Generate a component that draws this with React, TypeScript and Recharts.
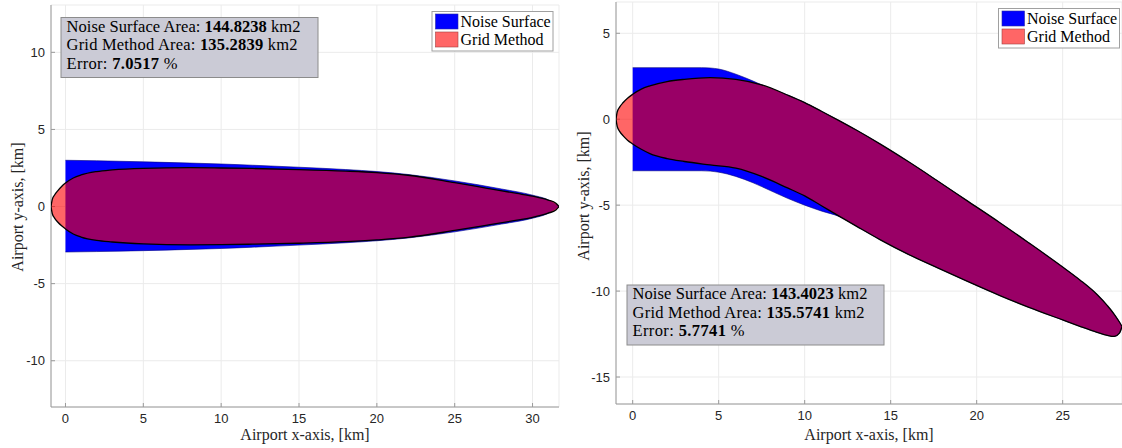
import React from 'react';
import { ComposedChart, Area, XAxis, YAxis, CartesianGrid } from 'recharts';

// ---------- Left panel (straight departure) ----------
const leftXTicks = [0, 5, 10, 15, 20, 25, 30];
const leftYTicks = [-10, -5, 0, 5, 10];
const leftNoiseX = [0, 2, 5, 8, 10, 12, 15, 18, 20, 22, 25, 28, 30, 31, 31.7];
const leftNoiseTop = [3.0, 2.97, 2.9, 2.82, 2.76, 2.68, 2.55, 2.4, 2.27, 2.08, 1.66, 1.14, 0.74, 0.44, 0.02];
const leftNoiseBottom = [-2.95, -2.92, -2.86, -2.78, -2.72, -2.64, -2.5, -2.35, -2.22, -2.04, -1.64, -1.14, -0.76, -0.45, -0.02];
const leftGridX = [-0.93, -0.85, -0.7, -0.5, -0.25, 0, 0.5, 1, 2, 3, 5, 8, 10, 12, 15, 18, 20, 22, 25, 27, 29, 30, 31, 31.5, 31.7];
const leftGridTop = [0, 0.45, 0.75, 1.02, 1.3, 1.52, 1.85, 2.05, 2.27, 2.38, 2.48, 2.52, 2.5, 2.47, 2.4, 2.3, 2.2, 2.03, 1.55, 1.2, 0.85, 0.67, 0.42, 0.22, 0];
const leftGridBottom = [0, -0.45, -0.75, -1.0, -1.25, -1.45, -1.78, -1.98, -2.2, -2.3, -2.42, -2.48, -2.47, -2.44, -2.38, -2.28, -2.16, -2.0, -1.55, -1.22, -0.88, -0.7, -0.43, -0.23, 0];

// ---------- Right panel (turning departure) ----------
const rightXTicks = [0, 5, 10, 15, 20, 25];
const rightYTicks = [-15, -10, -5, 0, 5];
const rightNoiseX = [0, 2, 4, 4.5, 5, 6, 7, 7.5, 9, 10, 11, 12, 13, 14.4, 16, 17.67, 19.5, 21.35, 23, 25, 26, 27, 27.6, 28, 28.3, 28.45];
const rightNoiseTop = [3, 3, 3, 2.98, 2.92, 2.62, 2.22, 2.0, 1.41, 0.97, 0.45, -0.08, -0.63, -1.45, -2.45, -3.55, -4.78, -6.02, -7.17, -8.6, -9.35, -10.2, -10.85, -11.35, -11.8, -12.06];
const rightNoiseBottom = [-3, -3, -3, -3.02, -3.08, -3.33, -3.7, -3.92, -4.6, -5.0, -5.35, -5.66, -6.22, -7.02, -7.85, -8.62, -9.45, -10.26, -10.93, -11.68, -12.05, -12.4, -12.58, -12.64, -12.45, -12.06];
const rightGridX = [-0.97, -0.9, -0.75, -0.55, -0.3, 0, 0.5, 1, 2, 3, 4.5, 6, 7.5, 9, 10, 11, 12, 13, 14.4, 16, 17.67, 19.5, 21.35, 23, 25, 26, 27, 27.6, 28, 28.3, 28.45];
const rightGridTop = [0, 0.42, 0.72, 0.97, 1.22, 1.45, 1.75, 1.94, 2.19, 2.32, 2.42, 2.32, 2.0, 1.41, 0.97, 0.45, -0.08, -0.63, -1.45, -2.45, -3.55, -4.78, -6.02, -7.17, -8.6, -9.35, -10.2, -10.85, -11.35, -11.8, -12.06];
const rightGridBottom = [0, -0.42, -0.72, -0.97, -1.22, -1.44, -1.75, -2.0, -2.29, -2.46, -2.66, -2.85, -3.33, -4.0, -4.46, -5.05, -5.64, -6.22, -7.02, -7.85, -8.62, -9.45, -10.26, -10.93, -11.68, -12.05, -12.4, -12.58, -12.64, -12.45, -12.06];

// ---------- Text ----------
const legendLabels = ['Noise Surface', 'Grid Method'];
const leftStats = ['144.8238', '135.2839', '7.0517'];
const rightStats = ['143.4023', '135.5741', '5.7741'];
const xTitle = 'Airport x-axis, [km]';
const yTitle = 'Airport y-axis, [km]';

const build = (xs: number[], top: number[], bot: number[]) =>
  xs.map((x, i) => ({ x, r: [bot[i], top[i]] as [number, number] }));

const tickStyle = { fill: '#262626', fontSize: 13, fontFamily: 'Liberation Sans, Arial, sans-serif' };
const AXIS = '#9a9a9a';

type PanelProps = {
  left: number;
  width: number;
  margin: { top: number; right: number; bottom: number; left: number };
  yw: number;
  xh: number;
  xDomain: [number, number];
  yDomain: [number, number];
  xTicks: number[];
  yTicks: number[];
  noise: { x: number; r: [number, number] }[];
  grid: { x: number; r: [number, number] }[];
};

function Panel(p: PanelProps) {
  const common = { position: 'absolute' as const, left: p.left, top: 0 };
  return (
    <>
      <div style={common}>
        <ComposedChart width={p.width} height={448} data={p.noise} margin={p.margin}>
          <CartesianGrid stroke="#ebebeb" strokeWidth={1} />
          <XAxis
            type="number"
            dataKey="x"
            domain={p.xDomain}
            ticks={p.xTicks}
            allowDataOverflow
            interval={0}
            height={p.xh}
            tickSize={-4}
            tickMargin={11}
            stroke={AXIS}
            tick={tickStyle}
          />
          <YAxis
            type="number"
            domain={p.yDomain}
            ticks={p.yTicks}
            allowDataOverflow
            interval={0}
            width={p.yw}
            tickSize={-4}
            tickMargin={10}
            stroke={AXIS}
            tick={tickStyle}
          />
          <Area
            dataKey="r"
            type="monotone"
            fill="#0000ff"
            fillOpacity={1}
            stroke="#00007a"
            strokeWidth={0.6}
            dot={false}
            activeDot={false}
            isAnimationActive={false}
          />
        </ComposedChart>
      </div>
      <div style={common}>
        <ComposedChart width={p.width} height={448} data={p.grid} margin={p.margin}>
          <XAxis
            type="number"
            dataKey="x"
            domain={p.xDomain}
            ticks={p.xTicks}
            allowDataOverflow
            height={p.xh}
            tick={false}
            tickLine={false}
            axisLine={false}
          />
          <YAxis
            type="number"
            domain={p.yDomain}
            ticks={p.yTicks}
            allowDataOverflow
            width={p.yw}
            tick={false}
            tickLine={false}
            axisLine={false}
          />
          <Area
            dataKey="r"
            type="monotone"
            fill="#ff0000"
            fillOpacity={0.6}
            stroke="#000000"
            strokeWidth={1.3}
            dot={false}
            activeDot={false}
            isAnimationActive={false}
          />
        </ComposedChart>
      </div>
    </>
  );
}

const SERIF = 'Liberation Serif, Times New Roman, serif';

function StatsBox({ x, y, stats, widths }: { x: number; y: number; stats: string[]; widths: number[] }) {
  return (
    <g fontFamily={SERIF} fontSize={16.5} fill="#000">
      <rect x={x} y={y} width={257} height={60} fill="#cbcbd6" stroke="#8c8c8c" strokeWidth={1} />
      <text x={x + 5.5} y={y + 14} textLength={widths[0]} lengthAdjust="spacing">
        Noise Surface Area: <tspan fontWeight="bold">{stats[0]}</tspan> km2
      </text>
      <text x={x + 5.5} y={y + 32.5} textLength={widths[1]} lengthAdjust="spacing">
        Grid Method Area: <tspan fontWeight="bold">{stats[1]}</tspan> km2
      </text>
      <text x={x + 5.5} y={y + 51} textLength={widths[2]} lengthAdjust="spacing">
        Error: <tspan fontWeight="bold">{stats[2]}</tspan> %
      </text>
    </g>
  );
}

function LegendBox({ x, y }: { x: number; y: number }) {
  return (
    <g fontFamily={SERIF} fontSize={16} fill="#000">
      <rect x={x} y={y} width={121} height={39.5} fill="#fff" stroke="#a0a0a0" strokeWidth={1} />
      <rect x={x + 3.5} y={y + 2.5} width={22.5} height={15} fill="#0000ff" stroke="#2a2aa0" strokeWidth={0.6} />
      <rect x={x + 3.5} y={y + 20.5} width={22.5} height={15} fill="#ff6666" stroke="#a04040" strokeWidth={0.6} />
      <text x={x + 28.5} y={y + 15}>{legendLabels[0]}</text>
      <text x={x + 28.5} y={y + 33}>{legendLabels[1]}</text>
    </g>
  );
}

export default function App() {
  const leftNoise = build(leftNoiseX, leftNoiseTop, leftNoiseBottom);
  const leftGrid = build(leftGridX, leftGridTop, leftGridBottom);
  const rightNoise = build(rightNoiseX, rightNoiseTop, rightNoiseBottom);
  const rightGrid = build(rightGridX, rightGridTop, rightGridBottom);
  return (
    <div
      style={{
        position: 'absolute',
        left: 0,
        top: 0,
        width: 1122,
        height: 448,
        background: '#fff',
        overflow: 'hidden',
      }}
    >
      <Panel
        left={0}
        width={580}
        margin={{ top: 5, right: 21, bottom: 0, left: 0 }}
        yw={51}
        xh={41}
        xDomain={[-0.93, 31.7]}
        yDomain={[-13, 13.07]}
        xTicks={leftXTicks}
        yTicks={leftYTicks}
        noise={leftNoise}
        grid={leftGrid}
      />
      <Panel
        left={560}
        width={562}
        margin={{ top: 2, right: 0, bottom: 0, left: 0 }}
        yw={56}
        xh={44}
        xDomain={[-0.97, 28.45]}
        yDomain={[-16.57, 6.82]}
        xTicks={rightXTicks}
        yTicks={rightYTicks}
        noise={rightNoise}
        grid={rightGrid}
      />
      <svg
        width={1122}
        height={448}
        style={{ position: 'absolute', left: 0, top: 0, pointerEvents: 'none' }}
      >
        <StatsBox x={61} y={17.5} stats={leftStats} widths={[234, 231, 111]} />
        <StatsBox x={627} y={285} stats={rightStats} widths={[235, 232, 112]} />
        <LegendBox x={432} y={11.5} />
        <LegendBox x={998.5} y={8.5} />
        <g fontFamily={SERIF} fontSize={16} fill="#262626">
          <text x={305} y={440} textAnchor="middle">{xTitle}</text>
          <text x={869} y={440} textAnchor="middle">{xTitle}</text>
          <text x={0} y={0} textAnchor="middle" transform="translate(23 207) rotate(-90)">{yTitle}</text>
          <text x={0} y={0} textAnchor="middle" transform="translate(589 196) rotate(-90)">{yTitle}</text>
        </g>
      </svg>
    </div>
  );
}
